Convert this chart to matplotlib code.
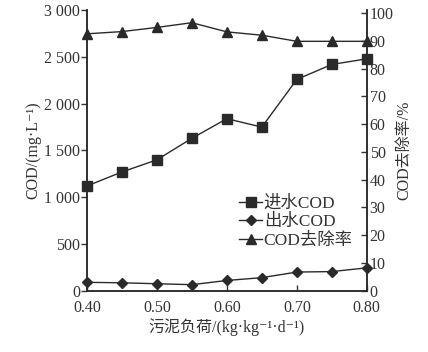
import matplotlib
matplotlib.use("Agg")
import matplotlib.pyplot as plt
from matplotlib.ticker import FuncFormatter

sludge_load = [0.40, 0.45, 0.50, 0.55, 0.60, 0.65, 0.70, 0.75, 0.80]
cod_in = [1120, 1270, 1400, 1630, 1840, 1750, 2260, 2420, 2480]
cod_out = [90, 85, 75, 65, 110, 140, 200, 205, 245]
cod_removal = [92.5, 93.3, 94.8, 96.5, 93.2, 92.0, 89.8, 89.8, 89.8]

x_ticks = [0.40, 0.50, 0.60, 0.70, 0.80]
left_ticks = [0, 500, 1000, 1500, 2000, 2500, 3000]
right_ticks = list(range(0, 101, 10))

FAM = ['Liberation Serif', 'Noto Sans CJK SC', 'DejaVu Sans']
plt.rcParams['font.family'] = FAM
plt.rcParams['axes.unicode_minus'] = False

fig = plt.figure(figsize=(4.28, 3.52), dpi=100)
ax = fig.add_axes([0.203, 0.174, 0.654, 0.797])
ax2 = ax.twinx()

col = '#2a2a2a'
tcol = '#333333'
l1, = ax.plot(sludge_load, cod_in, color=col, lw=1.0, marker='s', ms=6.5, label='进水COD')
l2, = ax.plot(sludge_load, cod_out, color=col, lw=1.0, marker='D', ms=5.5, label='出水COD')
l3, = ax2.plot(sludge_load, cod_removal, color=col, lw=1.0, marker='^', ms=7, label='COD去除率')
for l in (l1, l2, l3):
    l.set_clip_on(False)

ax.set_xlim(0.40, 0.80)
ax.set_ylim(0, 3000)
ax2.set_ylim(0, 101)

ax.set_xticks(x_ticks)
ax.set_xticklabels([f"{v:.2f}" for v in x_ticks])
ax.set_yticks(left_ticks)
ax.yaxis.set_major_formatter(FuncFormatter(lambda v, p: f"{int(v):,}".replace(",", " ")))
ax2.set_yticks(right_ticks)

for a in (ax, ax2):
    a.spines['top'].set_visible(False)
    for s in a.spines.values():
        s.set_linewidth(1.1)
        s.set_color(col)

ax.tick_params(axis='y', direction='out', length=4, width=1, labelsize=11.5, colors=tcol, pad=1)
ax.tick_params(axis='x', direction='in', length=4, width=1, labelsize=11.5, colors=tcol, pad=7)
ax2.tick_params(axis='y', direction='in', length=4, width=1, labelsize=11.5, colors=tcol, pad=2)

ax.set_ylabel('COD/(mg·L⁻¹)', fontsize=11.5, color=tcol, labelpad=2)
ax2.set_ylabel('COD去除率/%', fontsize=11.5, color=tcol, rotation=90, labelpad=2)
ax.set_xlabel('污泥负荷/(kg·kg⁻¹·d⁻¹)', fontsize=11.5, color=tcol, labelpad=1)

leg = ax.legend(handles=[l1, l2, l3], loc='upper left', bbox_to_anchor=(0.52, 0.365),
                frameon=False, fontsize=12.5, handlelength=1.3, handletextpad=0.1,
                labelspacing=0.15, borderaxespad=0)
for t in leg.get_texts():
    t.set_color(tcol)

fig.savefig('out.png', dpi=100)
